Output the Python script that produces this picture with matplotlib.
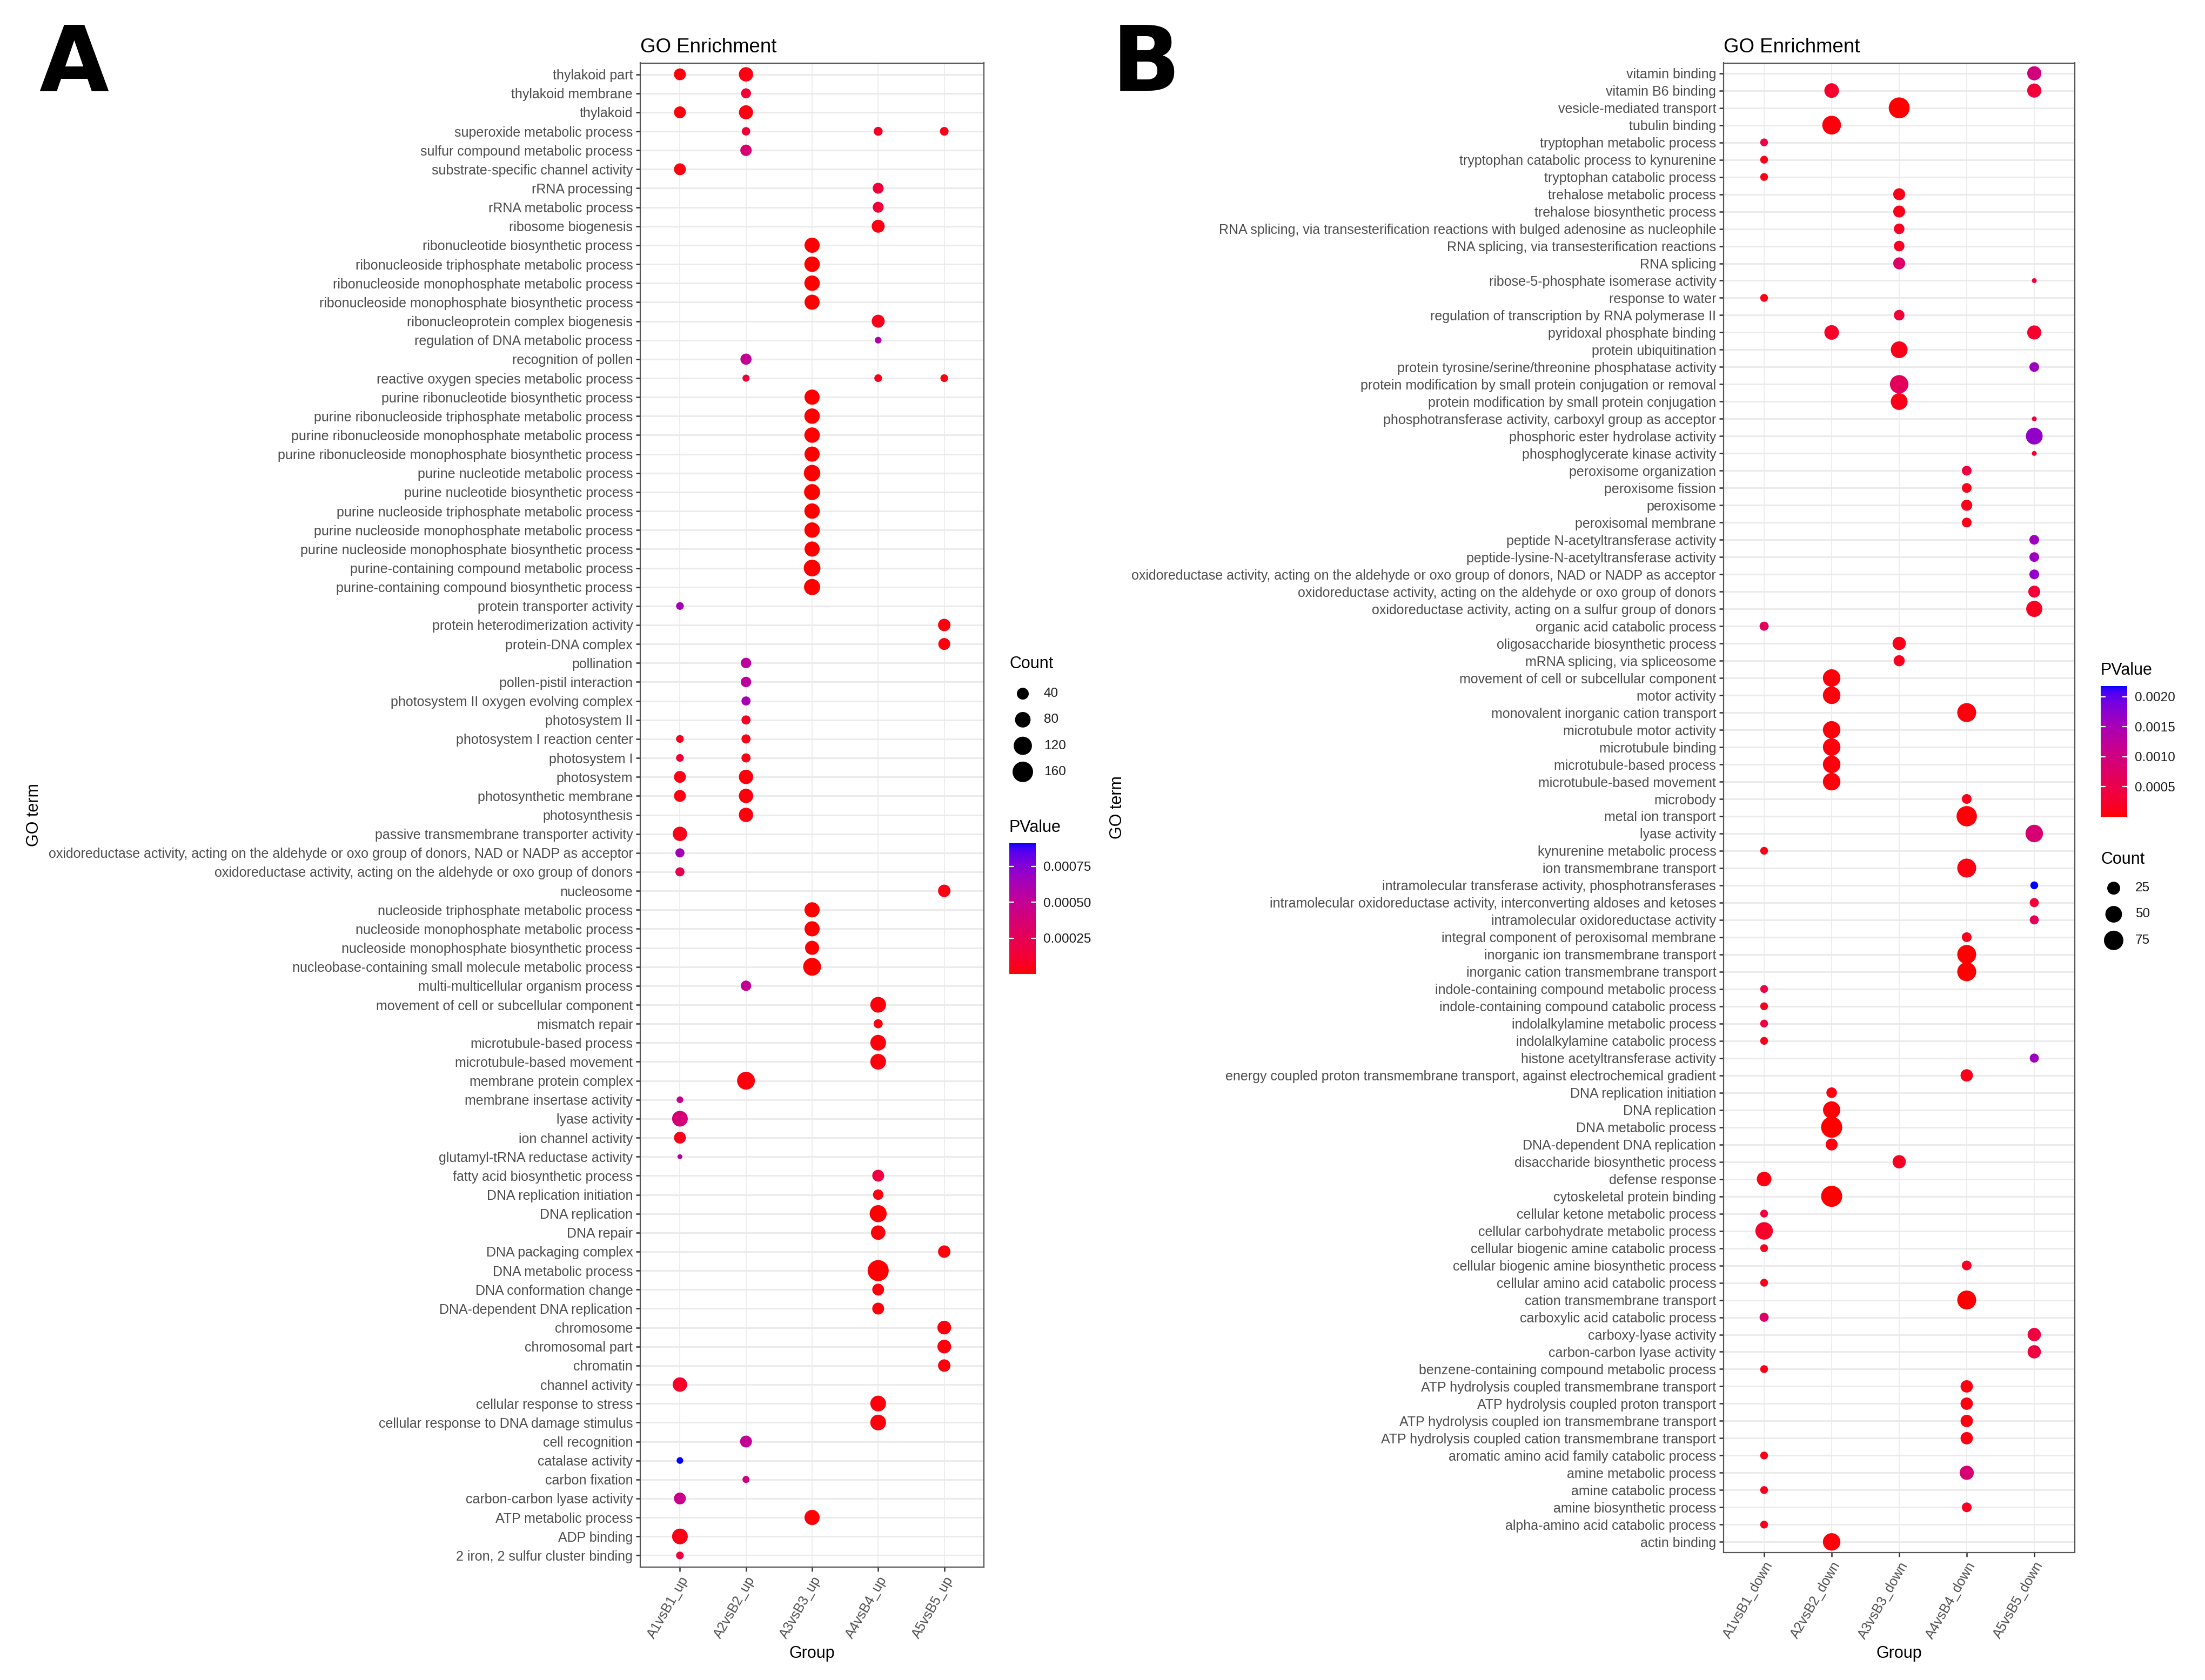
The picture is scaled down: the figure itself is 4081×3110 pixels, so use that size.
import numpy as np
import matplotlib
matplotlib.use("Agg")
import matplotlib.pyplot as plt
from matplotlib.colors import ListedColormap, Normalize
from matplotlib.cm import ScalarMappable
from matplotlib.transforms import blended_transform_factory

plt.rcParams["font.family"] = ["Liberation Sans", "DejaVu Sans"]

W, H, DPI = 4081, 3110, 200

# ---------------- panel A data (up-regulated) ----------------
a_groups = ["A1vsB1_up", "A2vsB2_up", "A3vsB3_up", "A4vsB4_up", "A5vsB5_up"]
a_terms = [
    "thylakoid part", "thylakoid membrane", "thylakoid", "superoxide metabolic process",
    "sulfur compound metabolic process", "substrate-specific channel activity", "rRNA processing",
    "rRNA metabolic process", "ribosome biogenesis", "ribonucleotide biosynthetic process",
    "ribonucleoside triphosphate metabolic process", "ribonucleoside monophosphate metabolic process",
    "ribonucleoside monophosphate biosynthetic process", "ribonucleoprotein complex biogenesis",
    "regulation of DNA metabolic process", "recognition of pollen",
    "reactive oxygen species metabolic process", "purine ribonucleotide biosynthetic process",
    "purine ribonucleoside triphosphate metabolic process",
    "purine ribonucleoside monophosphate metabolic process",
    "purine ribonucleoside monophosphate biosynthetic process", "purine nucleotide metabolic process",
    "purine nucleotide biosynthetic process", "purine nucleoside triphosphate metabolic process",
    "purine nucleoside monophosphate metabolic process",
    "purine nucleoside monophosphate biosynthetic process",
    "purine-containing compound metabolic process", "purine-containing compound biosynthetic process",
    "protein transporter activity", "protein heterodimerization activity", "protein-DNA complex",
    "pollination", "pollen-pistil interaction", "photosystem II oxygen evolving complex",
    "photosystem II", "photosystem I reaction center", "photosystem I", "photosystem",
    "photosynthetic membrane", "photosynthesis", "passive transmembrane transporter activity",
    "oxidoreductase activity, acting on the aldehyde or oxo group of donors, NAD or NADP as acceptor",
    "oxidoreductase activity, acting on the aldehyde or oxo group of donors", "nucleosome",
    "nucleoside triphosphate metabolic process", "nucleoside monophosphate metabolic process",
    "nucleoside monophosphate biosynthetic process",
    "nucleobase-containing small molecule metabolic process", "multi-multicellular organism process",
    "movement of cell or subcellular component", "mismatch repair", "microtubule-based process",
    "microtubule-based movement", "membrane protein complex", "membrane insertase activity",
    "lyase activity", "ion channel activity", "glutamyl-tRNA reductase activity",
    "fatty acid biosynthetic process", "DNA replication initiation", "DNA replication", "DNA repair",
    "DNA packaging complex", "DNA metabolic process", "DNA conformation change",
    "DNA-dependent DNA replication", "chromosome", "chromosomal part", "chromatin",
    "channel activity", "cellular response to stress", "cellular response to DNA damage stimulus",
    "cell recognition", "catalase activity", "carbon fixation", "carbon-carbon lyase activity",
    "ATP metabolic process", "ADP binding", "2 iron, 2 sulfur cluster binding",
]
a_term_groups = [
    [0, 1], [1], [0, 1], [1, 3, 4], [1], [0], [3], [3], [3], [2],
    [2], [2], [2], [3], [3], [1], [1, 3, 4], [2], [2], [2],
    [2], [2], [2], [2], [2], [2], [2], [2], [0], [4],
    [4], [1], [1], [1], [1], [0, 1], [0, 1], [0, 1], [0, 1], [1],
    [0], [0], [0], [4], [2], [2], [2], [2], [1], [3],
    [3], [3], [3], [1], [0], [0], [0], [0], [3], [3],
    [3], [3], [4], [3], [3], [3], [4], [4], [4], [0],
    [3], [3], [1], [0], [1], [0], [2], [0], [0],
]
a_term_counts = [
    [40, 65], [26], [40, 62], [18, 20, 19], [36], [40], [32], [32], [50], [75],
    [78], [78], [74], [50], [12], [34], [13, 15, 15], [75], [78], [78],
    [75], [92], [86], [78], [78], [75], [96], [88], [15], [45],
    [40], [29], [29], [21], [21], [15, 21], [15, 21], [40, 65], [40, 65], [65],
    [65], [21], [21], [45], [75], [75], [62], [113], [29], [82],
    [21], [82], [82], [113], [12], [82], [40], [10], [40], [29],
    [100], [66], [45], [171], [40], [40], [58], [58], [45], [66],
    [82], [82], [40], [12], [13], [40], [75], [82], [15],
]
a_term_pvals = [
    [1.8e-5, 2.7e-5], [1.4e-4], [1.8e-5, 2.7e-5], [1.4e-4, 7.3e-5, 4.6e-5], [3.6e-4],
    [2.7e-5], [1.4e-4], [1.4e-4], [2.7e-5], [5e-7],
    [4e-7], [4e-7], [6e-7], [4.6e-5], [5.9e-4],
    [5.0e-4], [1.4e-4, 4.6e-5, 2.7e-5], [5e-7], [4e-7], [4e-7],
    [6e-7], [2e-7], [3e-7], [4e-7], [4e-7],
    [6e-7], [2e-7], [3e-7], [6.4e-4], [1.8e-5],
    [1.8e-5], [5.3e-4], [5.3e-4], [6.2e-4], [7.3e-5],
    [5.5e-5, 3.6e-5], [1.4e-4, 3.6e-5], [3.6e-5, 1.8e-5], [2.7e-5, 1.8e-5], [1.8e-5],
    [4.6e-5], [6.4e-4], [2.3e-4], [2.7e-5], [5e-7],
    [5e-7], [8e-7], [1e-7], [5.0e-4], [1.8e-5],
    [2.7e-5], [1.8e-5], [1.8e-5], [1.8e-5], [4.6e-4],
    [3.8e-4], [4.6e-5], [5.9e-4], [1.6e-4], [2.7e-5],
    [1e-7], [1.8e-5], [1.8e-5], [1e-12], [1.8e-5],
    [1.8e-5], [1.8e-5], [1.8e-5], [1.8e-5], [9.1e-5],
    [1.8e-5], [1.8e-5], [5.0e-4], [9.1e-4], [4.1e-4],
    [4.6e-4], [9e-6], [3.6e-5], [1.6e-4],
]
a_count_breaks = [40, 80, 120, 160]
a_p_breaks = [0.00025, 0.00050, 0.00075]
a_p_labels = ["0.00025", "0.00050", "0.00075"]

# ---------------- panel B data (down-regulated) ----------------
b_groups = ["A1vsB1_down", "A2vsB2_down", "A3vsB3_down", "A4vsB4_down", "A5vsB5_down"]
b_terms = [
    "vitamin binding", "vitamin B6 binding", "vesicle-mediated transport", "tubulin binding",
    "tryptophan metabolic process", "tryptophan catabolic process to kynurenine",
    "tryptophan catabolic process", "trehalose metabolic process", "trehalose biosynthetic process",
    "RNA splicing, via transesterification reactions with bulged adenosine as nucleophile",
    "RNA splicing, via transesterification reactions", "RNA splicing",
    "ribose-5-phosphate isomerase activity", "response to water",
    "regulation of transcription by RNA polymerase II", "pyridoxal phosphate binding",
    "protein ubiquitination", "protein tyrosine/serine/threonine phosphatase activity",
    "protein modification by small protein conjugation or removal",
    "protein modification by small protein conjugation",
    "phosphotransferase activity, carboxyl group as acceptor", "phosphoric ester hydrolase activity",
    "phosphoglycerate kinase activity", "peroxisome organization", "peroxisome fission",
    "peroxisome", "peroxisomal membrane", "peptide N-acetyltransferase activity",
    "peptide-lysine-N-acetyltransferase activity",
    "oxidoreductase activity, acting on the aldehyde or oxo group of donors, NAD or NADP as acceptor",
    "oxidoreductase activity, acting on the aldehyde or oxo group of donors",
    "oxidoreductase activity, acting on a sulfur group of donors", "organic acid catabolic process",
    "oligosaccharide biosynthetic process", "mRNA splicing, via spliceosome",
    "movement of cell or subcellular component", "motor activity",
    "monovalent inorganic cation transport", "microtubule motor activity", "microtubule binding",
    "microtubule-based process", "microtubule-based movement", "microbody", "metal ion transport",
    "lyase activity", "kynurenine metabolic process", "ion transmembrane transport",
    "intramolecular transferase activity, phosphotransferases",
    "intramolecular oxidoreductase activity, interconverting aldoses and ketoses",
    "intramolecular oxidoreductase activity", "integral component of peroxisomal membrane",
    "inorganic ion transmembrane transport", "inorganic cation transmembrane transport",
    "indole-containing compound metabolic process", "indole-containing compound catabolic process",
    "indolalkylamine metabolic process", "indolalkylamine catabolic process",
    "histone acetyltransferase activity",
    "energy coupled proton transmembrane transport, against electrochemical gradient",
    "DNA replication initiation", "DNA replication", "DNA metabolic process",
    "DNA-dependent DNA replication", "disaccharide biosynthetic process", "defense response",
    "cytoskeletal protein binding", "cellular ketone metabolic process",
    "cellular carbohydrate metabolic process", "cellular biogenic amine catabolic process",
    "cellular biogenic amine biosynthetic process", "cellular amino acid catabolic process",
    "cation transmembrane transport", "carboxylic acid catabolic process", "carboxy-lyase activity",
    "carbon-carbon lyase activity", "benzene-containing compound metabolic process",
    "ATP hydrolysis coupled transmembrane transport", "ATP hydrolysis coupled proton transport",
    "ATP hydrolysis coupled ion transmembrane transport",
    "ATP hydrolysis coupled cation transmembrane transport",
    "aromatic amino acid family catabolic process", "amine metabolic process",
    "amine catabolic process", "amine biosynthetic process", "alpha-amino acid catabolic process",
    "actin binding",
]
b_term_groups = [
    [4], [1, 4], [2], [1], [0], [0], [0], [2], [2], [2],
    [2], [2], [4], [0], [2], [1, 4], [2], [4], [2], [2],
    [4], [4], [4], [3], [3], [3], [3], [4], [4], [4],
    [4], [4], [0], [2], [2], [1], [1], [3], [1], [1],
    [1], [1], [3], [3], [4], [0], [3], [4], [4], [4],
    [3], [3], [3], [0], [0], [0], [0], [4], [3], [1],
    [1], [1], [1], [2], [0], [1], [0], [0], [0], [3],
    [0], [3], [0], [4], [4], [0], [3], [3], [3], [3],
    [0], [3], [0], [3], [0], [1],
]
b_term_counts = [
    [32], [35, 32], [90], [68], [6], [6], [6], [20], [20], [14],
    [14], [20], [3], [6], [14], [35, 32], [51], [11], [65], [51],
    [3], [51], [3], [11], [11], [16], [11], [11], [11], [11],
    [20], [46], [9], [27], [16], [57], [57], [70], [57], [57],
    [57], [57], [11], [84], [57], [6], [70], [6], [9], [9],
    [11], [70], [70], [6], [6], [6], [6], [9], [22], [14],
    [55], [92], [20], [27], [35], [92], [6], [57], [6], [11],
    [6], [70], [9], [27], [27], [6], [22], [22], [22], [22],
    [6], [32], [6], [11], [6], [57],
]
b_term_pvals = [
    [9.8e-4], [2.6e-4, 3.3e-4], [1e-9], [4.4e-5], [4.4e-4],
    [1.1e-4], [1.1e-4], [1.1e-4], [1.1e-4], [1.7e-4],
    [1.7e-4], [7.6e-4], [3.3e-4], [6.5e-5], [3.3e-4],
    [2.2e-4, 2.6e-4], [1.1e-4], [1.6e-3], [6.5e-4], [1.1e-4],
    [3.3e-4], [1.7e-3], [3.3e-4], [3.9e-4], [1.1e-4],
    [1.1e-4], [1.1e-4], [1.6e-3], [1.6e-3], [1.7e-3],
    [3.3e-4], [1.7e-4], [6.5e-4], [1.1e-4], [1.3e-4],
    [4.4e-5], [4.4e-5], [4.4e-5], [4.4e-5], [4.4e-5],
    [4.4e-5], [4.4e-5], [1.1e-4], [2.2e-5], [8.7e-4],
    [1.1e-4], [6.5e-5], [2.18e-3], [3.3e-4], [6.5e-4],
    [1.1e-4], [5e-9], [5e-9], [4.4e-4], [1.1e-4],
    [4.4e-4], [1.1e-4], [1.6e-3], [1.1e-4], [6.5e-5],
    [2.2e-5], [1e-12], [6.5e-5], [1.7e-4], [6.5e-5],
    [1e-10], [3.9e-4], [2.2e-4], [1.1e-4], [1.7e-4],
    [1.1e-4], [1e-8], [7.6e-4], [3.9e-4], [3.9e-4],
    [1.1e-4], [6.5e-5], [6.5e-5], [6.5e-5], [6.5e-5],
    [1.1e-4], [8.7e-4], [1.1e-4], [1.7e-4], [1.1e-4],
    [4.4e-5],
]
b_count_breaks = [25, 50, 75]
b_p_breaks = [0.0005, 0.0010, 0.0015, 0.0020]
b_p_labels = ["0.0005", "0.0010", "0.0015", "0.0020"]


# red -> blue gradient interpolated in CIE Lab (like scale_colour_gradient)
M_RGB2XYZ = np.array([[0.4124564, 0.3575761, 0.1804375],
                      [0.2126729, 0.7151522, 0.0721750],
                      [0.0193339, 0.1191920, 0.9503041]])
WHITE = np.array([0.95047, 1.0, 1.08883])


def srgb_to_lab(rgb):
    rgb = np.asarray(rgb, float)
    lin = np.where(rgb <= 0.04045, rgb / 12.92, ((rgb + 0.055) / 1.055) ** 2.4)
    xyz = M_RGB2XYZ @ lin / WHITE
    f = np.where(xyz > 0.008856, np.cbrt(xyz), 7.787 * xyz + 16 / 116)
    return np.array([116 * f[1] - 16, 500 * (f[0] - f[1]), 200 * (f[1] - f[2])])


def lab_to_srgb(lab):
    L, a, b = lab[:, 0], lab[:, 1], lab[:, 2]
    fy = (L + 16) / 116
    f = np.stack([fy + a / 500, fy, fy - b / 200], axis=1)
    xyz = np.where(f > 0.206893, f ** 3, (f - 16 / 116) / 7.787) * WHITE
    lin = xyz @ np.linalg.inv(M_RGB2XYZ).T
    lin = np.clip(lin, 0, None)
    rgb = np.where(lin <= 0.0031308, 12.92 * lin, 1.055 * lin ** (1 / 2.4) - 0.055)
    return np.clip(rgb, 0, 1)


t = np.linspace(0, 1, 256)[:, None]
lab = srgb_to_lab([1, 0, 0]) * (1 - t) + srgb_to_lab([0, 0, 1]) * t
red_blue = ListedColormap(lab_to_srgb(lab))


def dot_area(counts, cmin, cmax):
    # ggplot scale_size (area) with range 1..6, converted to marker area in pt^2
    size = 1 + 5 * np.sqrt((np.asarray(counts, float) - cmin) / (cmax - cmin))
    d_px = 6.0 * size + 3.0
    return (d_px * 72 / DPI) ** 2


def fx(x):
    return x / W


def fy(y):
    return 1 - y / H


def panel(box, terms, groups, term_groups, term_counts, term_pvals,
          count_breaks, p_breaks, p_labels, leg):
    left, top, right, bottom = box
    ax = fig.add_axes([fx(left), fy(bottom), fx(right - left), (bottom - top) / H])

    rows = [i for i, gs in enumerate(term_groups) for _ in gs]
    cols = [g for gs in term_groups for g in gs]
    counts = np.array([c for cs in term_counts for c in cs])
    pvals = np.array([p for ps in term_pvals for p in ps])
    cmin, cmax = counts.min(), counts.max()
    norm = Normalize(vmin=pvals.min(), vmax=pvals.max())

    ax.scatter(cols, rows, s=dot_area(counts, cmin, cmax), c=pvals, cmap=red_blue,
               norm=norm, linewidths=0, zorder=3)

    n = len(terms)
    ax.set_xlim(-0.6, len(groups) - 0.4)
    ax.set_ylim(n - 0.4, -0.6)
    ax.set_xticks(range(len(groups)))
    ax.set_xticklabels(groups, rotation=60, ha="right", va="top", rotation_mode="anchor")
    ax.set_yticks(range(n))
    ax.set_yticklabels(terms)
    ax.set_axisbelow(True)
    ax.grid(axis="y", color="#EBEBEB", lw=1.1)
    ax.grid(axis="x", color="#EBEBEB", lw=0.6)
    for sp in ax.spines.values():
        sp.set_color("#555555")
        sp.set_linewidth(0.8)
    ax.tick_params(length=2.75, width=0.9, color="#333333", labelcolor="#4D4D4D",
                   labelsize=9.0, pad=2.2)
    ax.set_title("GO Enrichment", loc="left", fontsize=13.2, pad=7)
    ax.set_xlabel("Group", fontsize=11, labelpad=3)
    ax.set_ylabel("GO term", fontsize=11, labelpad=4)

    # colour bar
    cb_l, cb_t, cb_r, cb_b = leg["bar"]
    cax = fig.add_axes([fx(cb_l), fy(cb_b), fx(cb_r - cb_l), (cb_b - cb_t) / H])
    cb = fig.colorbar(ScalarMappable(norm=norm, cmap=red_blue), cax=cax, ticks=p_breaks)
    cb.set_ticklabels(p_labels)
    cb.outline.set_visible(False)
    cax.yaxis.set_ticks_position("both")
    cax.tick_params(direction="in", length=3.2, width=0.8, color="white",
                    labelsize=8.8, labelcolor="#1A1A1A", pad=5, labelleft=False,
                    labelright=True)
    fig.text(fx(cb_l), fy(leg["ptitle"]), "PValue", fontsize=11, ha="left", va="center")

    # size legend
    sx, sy0, sy1 = leg["size"]
    k = len(count_breaks)
    sax = fig.add_axes([fx(sx - 25), fy(sy1), fx(50), (sy1 - sy0) / H])
    sax.set_xlim(-1, 1)
    sax.set_ylim(k - 0.5, -0.5)
    sax.axis("off")
    sax.scatter(np.zeros(k), range(k), s=dot_area(count_breaks, cmin, cmax), color="black",
                linewidths=0, clip_on=False)
    tr = blended_transform_factory(fig.transFigure, sax.transData)
    for i, b in enumerate(count_breaks):
        sax.text(fx(leg["slabel"]), i, str(b), transform=tr, fontsize=8.8, color="#1A1A1A",
                 ha="left", va="center")
    fig.text(fx(cb_l), fy(leg["ctitle"]), "Count", fontsize=11, ha="left", va="center")
    return ax


fig = plt.figure(figsize=(W / DPI, H / DPI), dpi=DPI)

panel((1185, 116.5, 1821, 2900.5), a_terms, a_groups, a_term_groups, a_term_counts,
      a_term_pvals, a_count_breaks, a_p_breaks, a_p_labels,
      {"bar": (1868, 1561, 1917, 1803), "ptitle": 1532, "ctitle": 1229,
       "size": (1893, 1260, 1453), "slabel": 1932})

panel((3190, 116.5, 3840, 2873.5), b_terms, b_groups, b_term_groups, b_term_counts,
      b_term_pvals, b_count_breaks, b_p_breaks, b_p_labels,
      {"bar": (3888, 1270, 3937, 1512), "ptitle": 1241, "ctitle": 1591,
       "size": (3912, 1620, 1765), "slabel": 3952})

fig.text(fx(72), fy(40), "A", fontsize=60, fontweight="bold", ha="left", va="top",
         family=["Liberation Sans Narrow", "DejaVu Sans"])
fig.text(fx(2058), fy(40), "B", fontsize=60, fontweight="bold", ha="left", va="top",
         family=["Liberation Sans Narrow", "DejaVu Sans"])

fig.savefig("out.png", dpi=DPI)
